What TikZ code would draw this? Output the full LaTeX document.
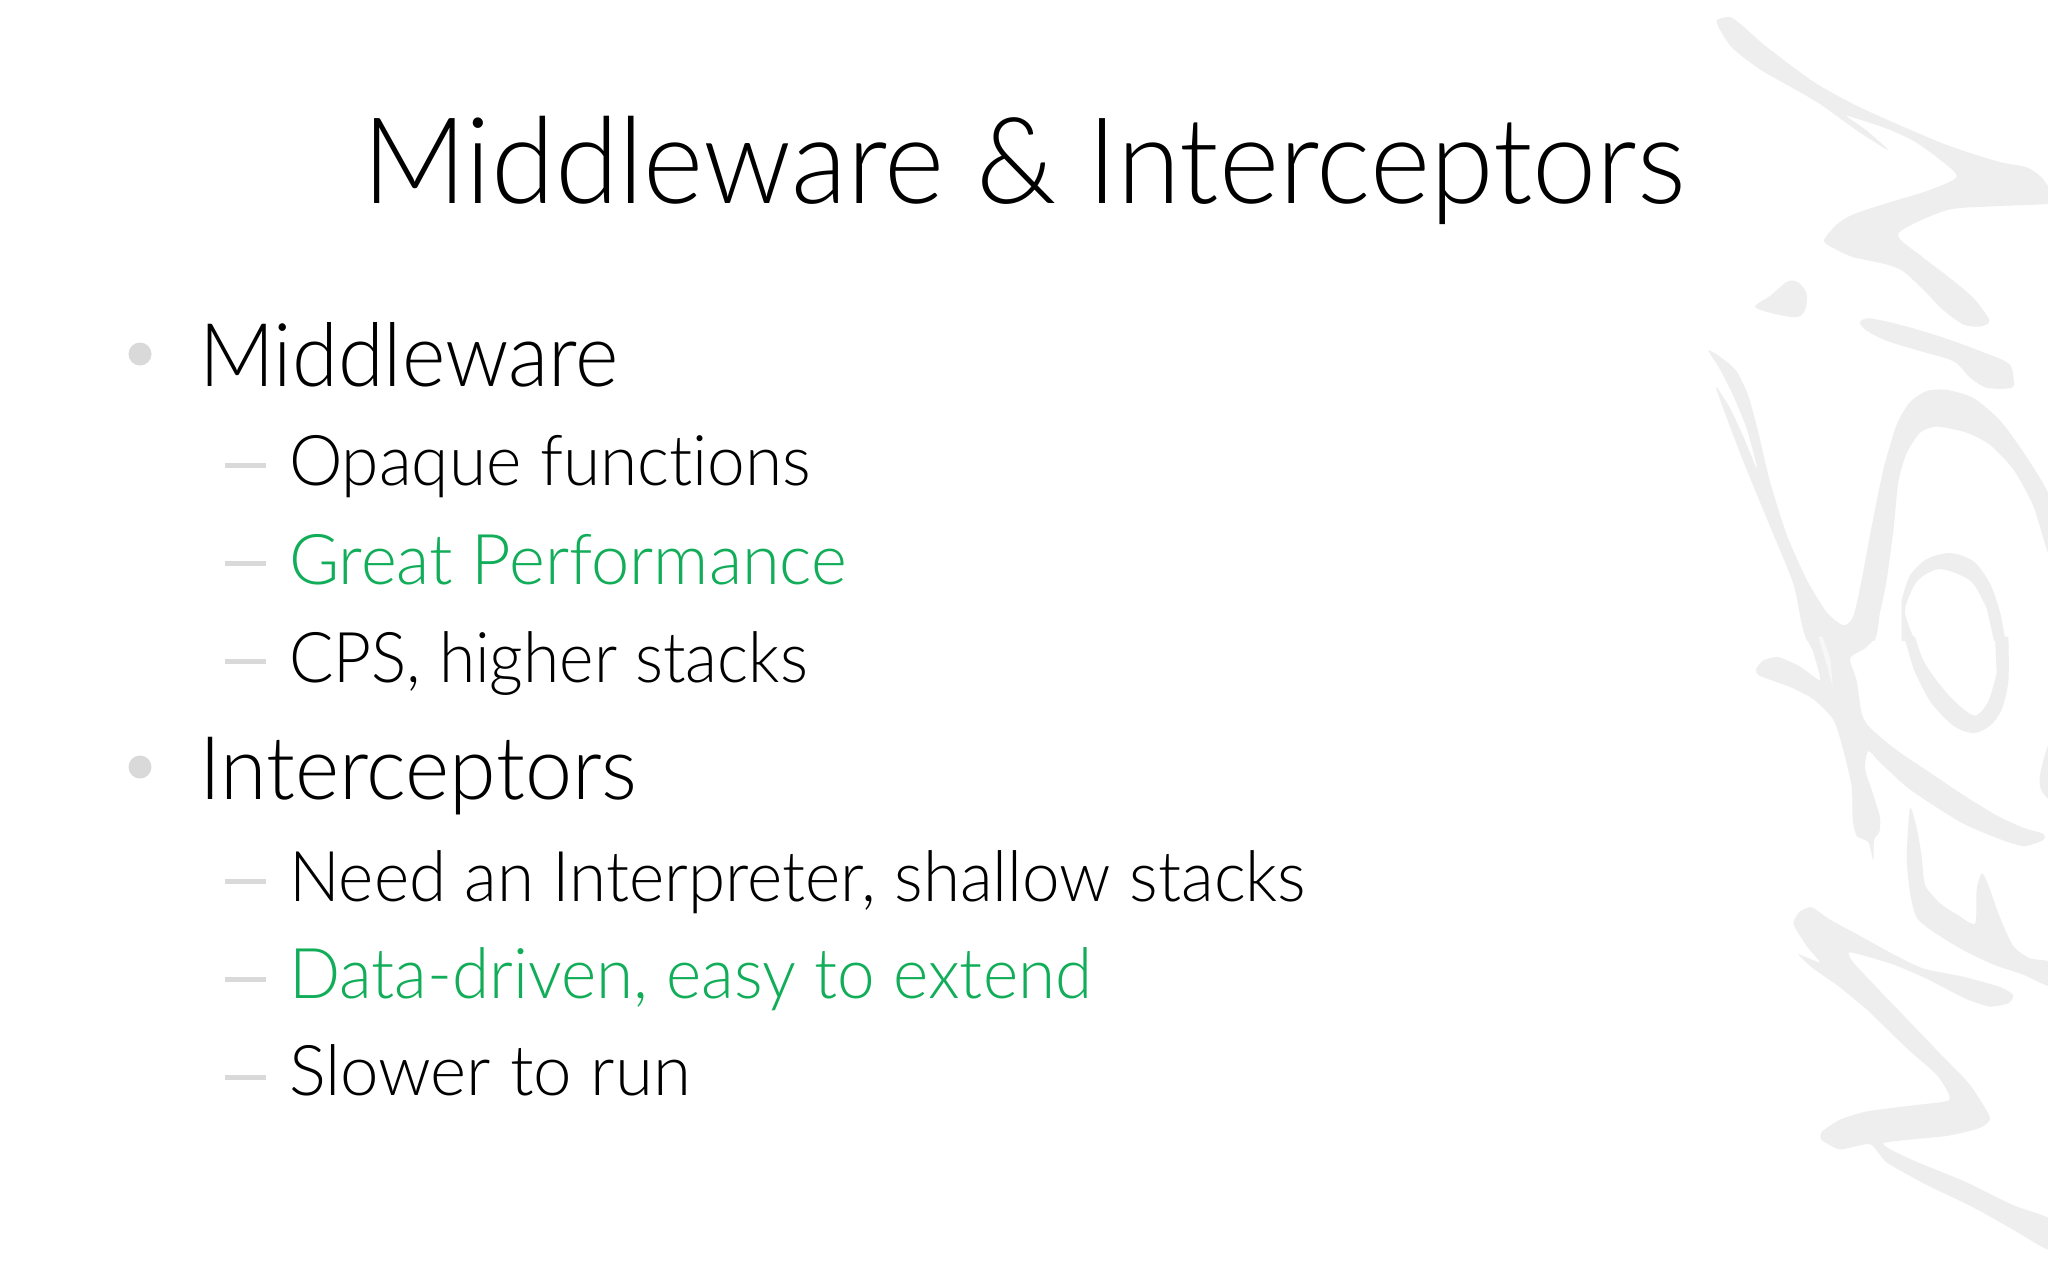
\documentclass[tikz,border=0pt]{standalone}
\usepackage{fontspec}
\setmainfont[Ligatures=NoCommon]{Lato Light}
\usetikzlibrary{calc}
\definecolor{slidegreen}{RGB}{17,173,88}
\definecolor{markgray}{RGB}{217,217,217}
\definecolor{inkgray}{RGB}{238,238,239}
\tikzset{
  txt/.style={anchor=base west,inner sep=0pt,outer sep=0pt,text=black},
  good/.style={txt,text=slidegreen},
  ink/.style={fill=inkgray,draw=none},
  bulletmark/.style={fill=markgray,draw=none}
}
\newcommand{\fittext}[3]{\resizebox{#1pt}{\height}{\fontsize{#2}{#2}\selectfont #3}}
\begin{document}
\begin{tikzpicture}[x=0.5pt,y=-0.5pt]
\useasboundingbox (0,0) rectangle (2048,1280);
\fill[white] (0,0) rectangle (2048,1280);
% calligraphic watermark, upper part
\begin{scope}[shift={(1680,0)},x=0.16667pt,y=-0.20408pt]
\clip (-100,0) rectangle (1104,1568);
\fill[ink] plot[smooth cycle,tension=0.45] coordinates {(110,50)(150,42)(190,65)(260,115)(400,200)(520,255)(640,300)(800,355)(950,395)(1040,410)(1085,435)(1112,470)(1112,498)(950,505)(800,515)(655,572)(720,625)(800,675)(880,730)(928,785)(900,800)(850,795)(790,760)(730,710)(670,665)(620,648)(520,630)(470,612)(432,590)(470,550)(520,525)(620,498)(740,468)(830,433)(770,385)(700,345)(620,315)(520,288)(500,285)(560,320)(625,368)(540,325)(420,255)(330,212)(240,170)(160,120)(125,80)};
\fill[ink] plot[smooth cycle,tension=0.5] coordinates {(225,752)(270,725)(322,690)(355,692)(380,720)(375,760)(350,777)(290,770)};
\fill[ink] plot[smooth cycle,tension=0.5] coordinates {(540,790)(570,780)(680,800)(800,830)(900,860)(985,890)(1000,925)(995,950)(920,950)(870,925)(820,885)(720,860)(620,835)(560,810)};
\fill[ink] plot[smooth cycle,tension=0.4] coordinates {(85,858)(130,880)(170,910)(205,970)(235,1060)(270,1180)(320,1310)(380,1420)(440,1500)(490,1532)(520,1510)(545,1420)(575,1290)(610,1150)(650,1040)(690,985)(740,958)(800,955)(880,975)(960,1030)(1040,1120)(1112,1225)(1112,1370)(1060,1240)(1000,1150)(930,1090)(860,1060)(770,1045)(720,1060)(680,1110)(655,1180)(640,1300)(620,1420)(600,1500)(572,1580)(390,1580)(340,1430)(260,1270)(180,1110)(108,950)(150,1000)(190,1070)(232,1150)(200,1050)(160,970)(120,905)};
\fill[ink] (665,1580) -- plot[smooth,tension=0.5] coordinates {(665,1470)(690,1410)(740,1370)(810,1355)(880,1375)(930,1430)(960,1500)(978,1580)} -- (945,1580) -- plot[smooth,tension=0.5] coordinates {(920,1490)(880,1430)(830,1405)(770,1395)(710,1425)(675,1490)(685,1530)(710,1580)} -- cycle;
\end{scope}
% calligraphic watermark, lower part
\begin{scope}[shift={(1680,640)},x=0.16667pt,y=-0.20408pt]
\clip (-100,-10) rectangle (1104,1568);
\fill[ink] plot[smooth cycle,tension=0.4] coordinates {(390,-8)(575,-8)(555,20)(510,45)(530,100)(545,180)(570,215)(650,270)(750,325)(850,380)(950,430)(1030,460)(1090,475)(1090,490)(1030,505)(950,485)(850,450)(760,405)(680,360)(600,300)(565,272)(555,315)(580,380)(600,435)(598,470)(582,490)(580,540)(565,495)(530,480)(518,440)(515,360)(490,270)(460,195)(400,145)(330,115)(240,88)(228,72)(250,50)(295,42)(360,65)(420,98)(400,30)};
\fill[white!55!inkgray] (415,-8) -- (440,60) -- (458,115) -- (452,50) -- (428,-8) -- cycle;
\fill[ink] (672,-8) -- plot[smooth,tension=0.5] coordinates {(700,70)(750,150)(820,210)(880,228)(930,210)(965,170)(985,100)(985,-8)} -- (945,-8) -- plot[smooth,tension=0.5] coordinates {(950,80)(925,150)(885,185)(830,155)(775,105)(730,50)(705,-8)} -- cycle;
\fill[ink] plot[smooth cycle,tension=0.5] coordinates {(1112,250)(1085,310)(1080,360)(1112,385)};
\fill[ink] plot[smooth cycle,tension=0.4] coordinates {(690,412)(710,460)(725,530)(735,600)(780,645)(830,672)(885,695)(890,610)(905,572)(920,590)(960,680)(1000,750)(1050,780)(1112,790)(1112,848)(1030,820)(940,795)(850,760)(760,715)(710,680)(690,620)(680,530)};
\fill[ink] plot[smooth cycle,tension=0.35] coordinates {(340,695)(360,665)(395,655)(450,685)(540,725)(640,770)(730,805)(850,825)(960,850)(1000,870)(985,890)(930,898)(860,880)(740,830)(640,795)(510,765)(520,790)(600,860)(700,945)(800,1030)(870,1090)(930,1170)(900,1195)(800,1215)(610,1233)(700,1275)(850,1325)(1000,1385)(1112,1420)(1112,1495)(1000,1445)(880,1390)(740,1335)(620,1280)(570,1235)(480,1248)(425,1225)(425,1205)(480,1175)(560,1155)(700,1140)(800,1130)(808,1115)(770,1065)(680,1000)(560,905)(470,845)(400,805)(355,770)(420,790)(380,750)};
\end{scope}
% title
\node[txt] (title) at (362,203) {\fittext{661.5}{60}{Middleware \& Interceptors}};
% first group
\fill[bulletmark] (140,354) circle[radius=11.5];
\node[txt] (mw) at (199,386) {\fittext{210}{44}{Middleware}};
\fill[bulletmark] (225,463) rectangle (266,468);
\node[txt] (m1) at (289,485) {\fittext{261}{35}{Opaque functions}};
\fill[bulletmark] (225,561) rectangle (266,566);
\node[good] (m2) at (289,584.5) {\fittext{279}{35}{Great Performance}};
\fill[bulletmark] (225,659) rectangle (266,664);
\node[txt] (m3) at (289,682) {\fittext{259.5}{35}{CPS, higher stacks}};
% second group
\fill[bulletmark] (140,767) circle[radius=11.5];
\node[txt] (ic) at (199,799) {\fittext{219}{44}{Interceptors}};
\fill[bulletmark] (225,879) rectangle (266,884);
\node[txt] (i1) at (289,901) {\fittext{508.5}{35}{Need an Interpreter, shallow stacks}};
\fill[bulletmark] (225,977) rectangle (266,982);
\node[good] (i2) at (289,998) {\fittext{401.5}{35}{Data-driven, easy to extend}};
\fill[bulletmark] (225,1075) rectangle (266,1080);
\node[txt] (i3) at (289,1095) {\fittext{201}{35}{Slower to run}};
\end{tikzpicture}
\end{document}
